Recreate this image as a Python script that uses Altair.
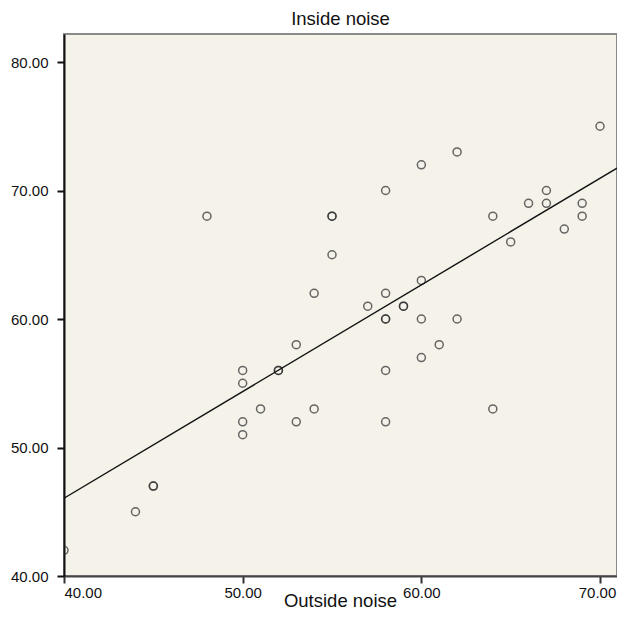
import altair as alt
import pandas as pd

outside_noise = [40, 44, 45, 45, 48, 50, 50, 50, 50, 51, 52, 52, 53, 53, 54, 54,
                 55, 55, 55, 57, 58, 58, 58, 58, 58, 58, 59, 59, 60, 60, 60, 60,
                 61, 62, 62, 64, 64, 65, 66, 67, 67, 68, 69, 69, 70]
inside_noise = [42, 45, 47, 47, 68, 56, 55, 52, 51, 53, 56, 56, 58, 52, 62, 53,
                68, 68, 65, 61, 70, 62, 60, 60, 56, 52, 61, 61, 72, 63, 60, 57,
                58, 73, 60, 68, 53, 66, 69, 70, 69, 67, 69, 68, 75]

x_ticks = [40, 50, 60, 70]
y_ticks = [40, 50, 60, 70, 80]

df = pd.DataFrame({"Outside noise": outside_noise, "Inside noise": inside_noise})

FONT = "Liberation Sans"
x_dom = [40, 70.95]
y_dom = [40, 82.18]

xenc = alt.X("Outside noise:Q",
             scale=alt.Scale(domain=x_dom, nice=False, zero=False),
             axis=alt.Axis(values=x_ticks, format=".2f", grid=False,
                           tickSize=7, tickColor="#333", tickWidth=2,
                           domainColor="#444", domainWidth=2,
                           labelFont=FONT, labelFontSize=15, labelColor="#111",
                           labelPadding=2,
                           labelOffset={"condition": {"test": "datum.value == 70", "value": -3}, "value": 0},
                           title="Outside noise",
                           titleFont=FONT, titleFontSize=18.5, titleFontWeight="normal",
                           titleColor="#111", titleX=276, titleY=30,
                           titleAlign="center", titleBaseline="alphabetic"))
yenc = alt.Y("Inside noise:Q",
             scale=alt.Scale(domain=y_dom, nice=False, zero=False),
             axis=alt.Axis(values=y_ticks, format=".2f", grid=False,
                           tickSize=7, tickColor="#111", tickWidth=2,
                           domainColor="#111", domainWidth=2,
                           labelFont=FONT, labelFontSize=15, labelColor="#111",
                           labelPadding=9, title="Inside noise",
                           titleFont=FONT, titleFontSize=18.5, titleFontWeight="normal",
                           titleColor="#111", titleAngle=0, titleX=276, titleY=-10,
                           titleAlign="center", titleBaseline="alphabetic"))

points = alt.Chart(df).mark_point(
    shape="circle", filled=False, size=64, color="#2a2a2a", strokeWidth=1.5, clip=True
).encode(x=xenc, y=yenc)

line = alt.Chart(df).transform_regression(
    "Outside noise", "Inside noise", extent=x_dom
).mark_line(color="#111", strokeWidth=1.4, clip=True).encode(
    x=alt.X("Outside noise:Q"), y=alt.Y("Inside noise:Q")
)

chart = alt.layer(points, line).properties(
    width=553, height=542,
    autosize=alt.AutoSizeParams(type="none"),
    padding={"left": 56, "top": 26, "right": 0, "bottom": 35},
    background="white",
).configure_view(fill="#F5F2EA", stroke="#8a8a8a", strokeWidth=2)

chart.save("out.html", embed_options={"renderer": "svg", "actions": False})
